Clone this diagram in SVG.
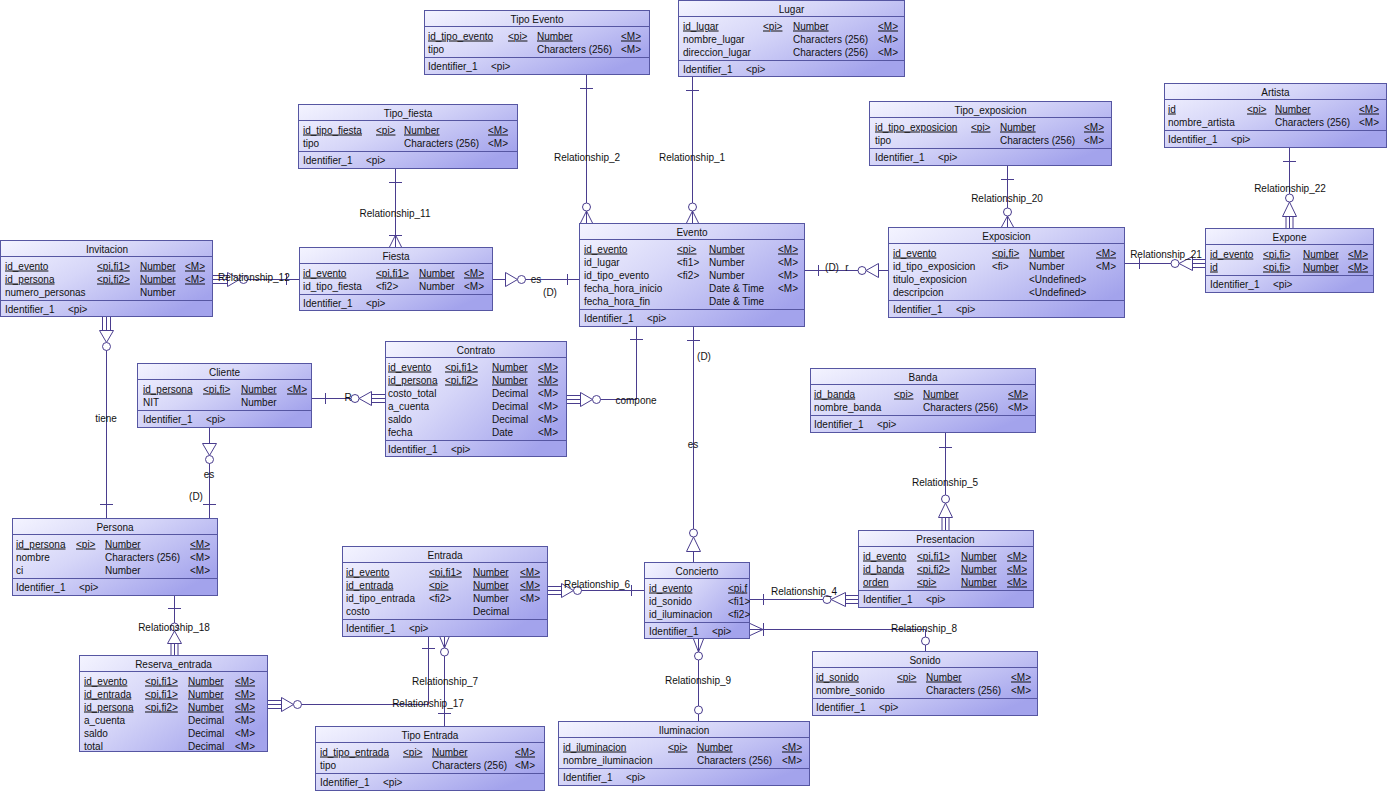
<svg xmlns="http://www.w3.org/2000/svg" width="1388" height="792" viewBox="0 0 1388 792">
<defs>
<linearGradient id="g" x1="0" y1="0" x2="1" y2="0.7">
<stop offset="0" stop-color="#f4f4ff"/>
<stop offset="0.45" stop-color="#d6d6f8"/>
<stop offset="1" stop-color="#a3a3ec"/>
</linearGradient>
<clipPath id="cc"><rect x="644" y="562" width="106" height="77"/></clipPath>
<style>
.e rect{fill:url(#g);stroke:#5656a2;stroke-width:1}
.e line{stroke:#5656a2;stroke-width:1}
text{font-family:"Liberation Sans",Arial,sans-serif;font-size:10px;fill:#111}
.h{text-anchor:middle}
.u{text-decoration:underline}
.cn line,.cn polyline{stroke:#4a3d8e;fill:none;stroke-width:1}
.cn circle,.cn polygon{stroke:#4a3d8e;fill:#fff;stroke-width:1}
</style>
</defs>
<rect width="1388" height="792" fill="#fff"/>

<g id="connectors" class="cn">
<!-- Relationship_2 -->
<line x1="586.5" y1="74" x2="586.5" y2="203"/>
<line x1="580" y1="88.5" x2="593" y2="88.5"/>
<circle cx="586.5" cy="207" r="4"/>
<polyline points="580.5,223 586.5,211 592.5,223"/>
<line x1="586.5" y1="211" x2="586.5" y2="223"/>
<!-- Relationship_1 -->
<line x1="692.5" y1="77" x2="692.5" y2="203"/>
<line x1="686" y1="90.5" x2="699" y2="90.5"/>
<circle cx="692.5" cy="207" r="4"/>
<polyline points="686.5,223 692.5,211 698.5,223"/>
<line x1="692.5" y1="211" x2="692.5" y2="223"/>
<!-- Relationship_11 -->
<line x1="395.5" y1="168" x2="395.5" y2="247"/>
<line x1="389" y1="182.5" x2="402" y2="182.5"/>
<line x1="389" y1="235.5" x2="402" y2="235.5"/>
<polyline points="389.5,247 395.5,235 401.5,247"/>
<!-- Relationship_12 -->
<line x1="213" y1="275.5" x2="227" y2="275.5"/>
<line x1="213" y1="279.5" x2="227" y2="279.5"/>
<line x1="213" y1="283.5" x2="227" y2="283.5"/>
<polygon points="227.5,272.5 227.5,286.5 239.5,279.5"/>
<circle cx="243.5" cy="279.5" r="4"/>
<line x1="247.5" y1="279.5" x2="299" y2="279.5"/>
<line x1="286.5" y1="274" x2="286.5" y2="285"/>
<!-- Fiesta es Evento -->
<line x1="493" y1="279.5" x2="505.5" y2="279.5"/>
<polygon points="505.5,272.5 505.5,286.5 517.5,279.5"/>
<circle cx="521.5" cy="279.5" r="4"/>
<line x1="525.5" y1="279.5" x2="579" y2="279.5"/>
<line x1="567.5" y1="274" x2="567.5" y2="285"/>
<!-- Evento r Exposicion -->
<line x1="805" y1="270.5" x2="858" y2="270.5"/>
<line x1="818.5" y1="265" x2="818.5" y2="276"/>
<circle cx="862" cy="270.5" r="4"/>
<polygon points="866,270.5 878.5,263.5 878.5,277.5"/>
<line x1="878.5" y1="270.5" x2="888" y2="270.5"/>
<!-- Evento es Concierto -->
<line x1="693.5" y1="326" x2="693.5" y2="529"/>
<line x1="687" y1="340.5" x2="700" y2="340.5"/>
<circle cx="693.5" cy="533" r="4"/>
<polygon points="693.5,537 686.5,551.5 700.5,551.5"/>
<line x1="693.5" y1="551.5" x2="693.5" y2="562"/>
<!-- compone -->
<line x1="567" y1="395.5" x2="580" y2="395.5"/>
<line x1="567" y1="399.5" x2="580" y2="399.5"/>
<line x1="567" y1="403.5" x2="580" y2="403.5"/>
<polygon points="580.5,392.5 580.5,406.5 592.5,399.5"/>
<circle cx="596.5" cy="399.5" r="4"/>
<polyline points="600.5,399.5 636.5,399.5 636.5,326"/>
<line x1="630" y1="339.5" x2="643" y2="339.5"/>
<!-- Cliente R Contrato -->
<line x1="312" y1="398.5" x2="351" y2="398.5"/>
<line x1="325.5" y1="393" x2="325.5" y2="404"/>
<circle cx="355" cy="398.5" r="4"/>
<polygon points="359,398.5 371.5,391.5 371.5,405.5"/>
<line x1="371.5" y1="394.5" x2="385" y2="394.5"/>
<line x1="371.5" y1="398.5" x2="385" y2="398.5"/>
<line x1="371.5" y1="402.5" x2="385" y2="402.5"/>
<!-- tiene -->
<line x1="102.5" y1="317" x2="102.5" y2="330"/>
<line x1="106.5" y1="317" x2="106.5" y2="330"/>
<line x1="110.5" y1="317" x2="110.5" y2="330"/>
<polygon points="99.5,330.5 113.5,330.5 106.5,342.5"/>
<circle cx="106.5" cy="346.5" r="4"/>
<line x1="106.5" y1="350.5" x2="106.5" y2="518"/>
<line x1="100" y1="504.5" x2="113" y2="504.5"/>
<!-- Cliente es Persona -->
<line x1="209.5" y1="427" x2="209.5" y2="443"/>
<polygon points="202.5,443.5 216.5,443.5 209.5,455.5"/>
<circle cx="209.5" cy="459.5" r="4"/>
<line x1="209.5" y1="463.5" x2="209.5" y2="518"/>
<line x1="203" y1="504.5" x2="216" y2="504.5"/>
<!-- Relationship_18 -->
<line x1="174.5" y1="595" x2="174.5" y2="623"/>
<line x1="168" y1="608.5" x2="181" y2="608.5"/>
<circle cx="174.5" cy="627" r="4"/>
<polygon points="174.5,631 167.5,643.5 181.5,643.5"/>
<line x1="171" y1="643.5" x2="171" y2="655"/>
<line x1="174.5" y1="643.5" x2="174.5" y2="655"/>
<line x1="178" y1="643.5" x2="178" y2="655"/>
<!-- Relationship_17 -->
<line x1="268" y1="700.5" x2="281" y2="700.5"/>
<line x1="268" y1="704.5" x2="281" y2="704.5"/>
<line x1="268" y1="708.5" x2="281" y2="708.5"/>
<polygon points="281.5,697.5 281.5,711.5 293.5,704.5"/>
<circle cx="297.5" cy="704.5" r="4"/>
<polyline points="301.5,704.5 428.5,704.5 428.5,636"/>
<line x1="422" y1="648.5" x2="435" y2="648.5"/>
<!-- Relationship_7 -->
<line x1="444.5" y1="636" x2="444.5" y2="648"/>
<polyline points="439.5,636 444.5,648 449.5,636"/>
<circle cx="444.5" cy="652" r="4"/>
<line x1="444.5" y1="656" x2="444.5" y2="726"/>
<line x1="438" y1="713.5" x2="451" y2="713.5"/>
<!-- Relationship_6 -->
<line x1="548" y1="586.5" x2="561" y2="586.5"/>
<line x1="548" y1="590.5" x2="561" y2="590.5"/>
<line x1="548" y1="594.5" x2="561" y2="594.5"/>
<polygon points="561.5,583.5 561.5,597.5 573.5,590.5"/>
<circle cx="577.5" cy="590.5" r="4"/>
<line x1="581.5" y1="590.5" x2="644" y2="590.5"/>
<line x1="631.5" y1="585" x2="631.5" y2="596"/>
<!-- Relationship_4 -->
<line x1="750" y1="599.5" x2="823" y2="599.5"/>
<line x1="763.5" y1="594" x2="763.5" y2="605"/>
<circle cx="827" cy="599.5" r="4"/>
<polygon points="831,599.5 845.5,592.5 845.5,606.5"/>
<line x1="845.5" y1="595.5" x2="858" y2="595.5"/>
<line x1="845.5" y1="599.5" x2="858" y2="599.5"/>
<line x1="845.5" y1="603.5" x2="858" y2="603.5"/>
<!-- Relationship_8 -->
<polyline points="750,623.5 763,629.5 750,635.5"/>
<line x1="763.5" y1="623" x2="763.5" y2="636"/>
<polyline points="750,629.5 925.5,629.5 925.5,637"/>
<circle cx="925.5" cy="641" r="4"/>
<line x1="925.5" y1="645" x2="925.5" y2="651"/>
<!-- Relationship_9 -->
<polyline points="693.5,639 698.5,652 703.5,639"/>
<line x1="698.5" y1="639" x2="698.5" y2="652"/>
<circle cx="698.5" cy="656" r="4"/>
<line x1="698.5" y1="660" x2="698.5" y2="706"/>
<circle cx="698.5" cy="710" r="4"/>
<line x1="698.5" y1="714" x2="698.5" y2="721"/>
<!-- Relationship_5 -->
<line x1="945.5" y1="432" x2="945.5" y2="495"/>
<line x1="939" y1="447.5" x2="952" y2="447.5"/>
<circle cx="945.5" cy="499" r="4"/>
<polygon points="945.5,503 938.5,517.5 952.5,517.5"/>
<line x1="942" y1="517.5" x2="942" y2="530"/>
<line x1="945.5" y1="517.5" x2="945.5" y2="530"/>
<line x1="949" y1="517.5" x2="949" y2="530"/>
<!-- Relationship_20 -->
<line x1="1007.5" y1="165" x2="1007.5" y2="208"/>
<line x1="1001" y1="179.5" x2="1014" y2="179.5"/>
<circle cx="1007.5" cy="212" r="4"/>
<polyline points="1001.5,227 1007.5,216 1013.5,227"/>
<line x1="1007.5" y1="216" x2="1007.5" y2="227"/>
<!-- Relationship_21 -->
<line x1="1125" y1="263.5" x2="1171" y2="263.5"/>
<line x1="1139.5" y1="258" x2="1139.5" y2="269"/>
<circle cx="1175" cy="263.5" r="4"/>
<polygon points="1179,263.5 1192.5,256.5 1192.5,270.5"/>
<line x1="1192.5" y1="259.5" x2="1205" y2="259.5"/>
<line x1="1192.5" y1="263.5" x2="1205" y2="263.5"/>
<line x1="1192.5" y1="267.5" x2="1205" y2="267.5"/>
<!-- Relationship_22 -->
<line x1="1289.5" y1="147" x2="1289.5" y2="194"/>
<line x1="1283" y1="161.5" x2="1296" y2="161.5"/>
<circle cx="1289.5" cy="198" r="4"/>
<polygon points="1289.5,202 1282.5,216.5 1296.5,216.5"/>
<line x1="1286" y1="216.5" x2="1286" y2="228"/>
<line x1="1289.5" y1="216.5" x2="1289.5" y2="228"/>
<line x1="1293" y1="216.5" x2="1293" y2="228"/>
<!-- labels -->
<text x="587" y="160.5" class="h">Relationship_2</text>
<text x="692" y="160.5" class="h">Relationship_1</text>
<text x="395" y="216.5" class="h">Relationship_11</text>
<text x="218" y="280.5">Relationship_12</text>
<text x="536" y="282.5" class="h">es</text>
<text x="550" y="295.5" class="h">(D)</text>
<text x="832" y="271" class="h">(D)</text>
<text x="847" y="271" class="h">r</text>
<text x="704" y="359.5" class="h">(D)</text>
<text x="693" y="447.5" class="h">es</text>
<text x="636" y="403.5" class="h">compone</text>
<text x="348" y="401" class="h">R</text>
<text x="106" y="421.5" class="h">tiene</text>
<text x="209" y="477.5" class="h">es</text>
<text x="196" y="499.5" class="h">(D)</text>
<text x="174" y="630.5" class="h">Relationship_18</text>
<text x="428" y="706.5" class="h">Relationship_17</text>
<text x="445" y="684.5" class="h">Relationship_7</text>
<text x="597" y="587.5" class="h">Relationship_6</text>
<text x="804" y="594.5" class="h">Relationship_4</text>
<text x="924" y="631.5" class="h">Relationship_8</text>
<text x="698" y="683.5" class="h">Relationship_9</text>
<text x="945" y="485.5" class="h">Relationship_5</text>
<text x="1007" y="201.5" class="h">Relationship_20</text>
<text x="1166" y="257.5" class="h">Relationship_21</text>
<text x="1290" y="191.5" class="h">Relationship_22</text>
</g>

<g id="tipo_evento" class="e">
<rect x="424.5" y="10.5" width="225" height="64"/>
<line x1="424.5" y1="26.5" x2="649.5" y2="26.5"/>
<line x1="424.5" y1="57.5" x2="649.5" y2="57.5"/>
<text x="537" y="22.5" class="h">Tipo Evento</text>
<text x="428" y="39.5" class="u">id_tipo_evento</text><text x="508" y="39.5" class="u">&lt;pi&gt;</text><text x="537" y="39.5" class="u">Number</text><text x="621" y="39.5" class="u">&lt;M&gt;</text>
<text x="428" y="52.5">tipo</text><text x="537" y="52.5">Characters (256)</text><text x="621" y="52.5">&lt;M&gt;</text>
<text x="428" y="69.5">Identifier_1</text><text x="491" y="69.5">&lt;pi&gt;</text>
</g>

<g id="lugar" class="e">
<rect x="678.5" y="0.5" width="226" height="76"/>
<line x1="678.5" y1="16.5" x2="904.5" y2="16.5"/>
<line x1="678.5" y1="60.5" x2="904.5" y2="60.5"/>
<text x="791.5" y="12.5" class="h">Lugar</text>
<text x="683" y="29.5" class="u">id_lugar</text><text x="763" y="29.5" class="u">&lt;pi&gt;</text><text x="793" y="29.5" class="u">Number</text><text x="878" y="29.5" class="u">&lt;M&gt;</text>
<text x="683" y="42.5">nombre_lugar</text><text x="793" y="42.5">Characters (256)</text><text x="878" y="42.5">&lt;M&gt;</text>
<text x="683" y="55.5">direccion_lugar</text><text x="793" y="55.5">Characters (256)</text><text x="878" y="55.5">&lt;M&gt;</text>
<text x="683" y="72.5">Identifier_1</text><text x="746" y="72.5">&lt;pi&gt;</text>
</g>

<g id="tipo_fiesta" class="e">
<rect x="298.5" y="104.5" width="219" height="64"/>
<line x1="298.5" y1="120.5" x2="517.5" y2="120.5"/>
<line x1="298.5" y1="151.5" x2="517.5" y2="151.5"/>
<text x="408" y="116.5" class="h">Tipo_fiesta</text>
<text x="303" y="133.5" class="u">id_tipo_fiesta</text><text x="376" y="133.5" class="u">&lt;pi&gt;</text><text x="404" y="133.5" class="u">Number</text><text x="488" y="133.5" class="u">&lt;M&gt;</text>
<text x="303" y="146.5">tipo</text><text x="404" y="146.5">Characters (256)</text><text x="488" y="146.5">&lt;M&gt;</text>
<text x="303" y="163.5">Identifier_1</text><text x="366" y="163.5">&lt;pi&gt;</text>
</g>

<g id="invitacion" class="e">
<rect x="0.5" y="240.5" width="212" height="76"/>
<line x1="0.5" y1="256.5" x2="212.5" y2="256.5"/>
<line x1="0.5" y1="300.5" x2="212.5" y2="300.5"/>
<text x="107" y="252.5" class="h">Invitacion</text>
<text x="5" y="269.5" class="u">id_evento</text><text x="97" y="269.5" class="u">&lt;pi,fi1&gt;</text><text x="140" y="269.5" class="u">Number</text><text x="185" y="269.5" class="u">&lt;M&gt;</text>
<text x="5" y="282.5" class="u">id_persona</text><text x="97" y="282.5" class="u">&lt;pi,fi2&gt;</text><text x="140" y="282.5" class="u">Number</text><text x="185" y="282.5" class="u">&lt;M&gt;</text>
<text x="5" y="295.5">numero_personas</text><text x="140" y="295.5">Number</text>
<text x="5" y="312.5">Identifier_1</text><text x="68" y="312.5">&lt;pi&gt;</text>
</g>

<g id="fiesta" class="e">
<rect x="299.5" y="247.5" width="193" height="63"/>
<line x1="299.5" y1="263.5" x2="492.5" y2="263.5"/>
<line x1="299.5" y1="294.5" x2="492.5" y2="294.5"/>
<text x="396" y="259.5" class="h">Fiesta</text>
<text x="303" y="276.5" class="u">id_evento</text><text x="376" y="276.5" class="u">&lt;pi,fi1&gt;</text><text x="419" y="276.5" class="u">Number</text><text x="464" y="276.5" class="u">&lt;M&gt;</text>
<text x="303" y="289.5">id_tipo_fiesta</text><text x="376" y="289.5">&lt;fi2&gt;</text><text x="419" y="289.5">Number</text><text x="464" y="289.5">&lt;M&gt;</text>
<text x="303" y="306.5">Identifier_1</text><text x="366" y="306.5">&lt;pi&gt;</text>
</g>

<g id="evento" class="e">
<rect x="579.5" y="223.5" width="225" height="103"/>
<line x1="579.5" y1="239.5" x2="804.5" y2="239.5"/>
<line x1="579.5" y1="309.5" x2="804.5" y2="309.5"/>
<text x="692" y="235.5" class="h">Evento</text>
<text x="584" y="252.5" class="u">id_evento</text><text x="677" y="252.5" class="u">&lt;pi&gt;</text><text x="709" y="252.5" class="u">Number</text><text x="778" y="252.5" class="u">&lt;M&gt;</text>
<text x="584" y="265.5">id_lugar</text><text x="677" y="265.5">&lt;fi1&gt;</text><text x="709" y="265.5">Number</text><text x="778" y="265.5">&lt;M&gt;</text>
<text x="584" y="278.5">id_tipo_evento</text><text x="677" y="278.5">&lt;fi2&gt;</text><text x="709" y="278.5">Number</text><text x="778" y="278.5">&lt;M&gt;</text>
<text x="584" y="291.5">fecha_hora_inicio</text><text x="709" y="291.5">Date &amp; Time</text><text x="778" y="291.5">&lt;M&gt;</text>
<text x="584" y="304.5">fecha_hora_fin</text><text x="709" y="304.5">Date &amp; Time</text>
<text x="584" y="321.5">Identifier_1</text><text x="647" y="321.5">&lt;pi&gt;</text>
</g>

<g id="exposicion" class="e">
<rect x="888.5" y="227.5" width="236" height="90"/>
<line x1="888.5" y1="243.5" x2="1124.5" y2="243.5"/>
<line x1="888.5" y1="300.5" x2="1124.5" y2="300.5"/>
<text x="1006.5" y="239.5" class="h">Exposicion</text>
<text x="893" y="256.5" class="u">id_evento</text><text x="992" y="256.5" class="u">&lt;pi,fi&gt;</text><text x="1029" y="256.5" class="u">Number</text><text x="1096" y="256.5" class="u">&lt;M&gt;</text>
<text x="893" y="269.5">id_tipo_exposicion</text><text x="992" y="269.5">&lt;fi&gt;</text><text x="1029" y="269.5">Number</text><text x="1096" y="269.5">&lt;M&gt;</text>
<text x="893" y="282.5">titulo_exposicion</text><text x="1029" y="282.5">&lt;Undefined&gt;</text>
<text x="893" y="295.5">descripcion</text><text x="1029" y="295.5">&lt;Undefined&gt;</text>
<text x="893" y="312.5">Identifier_1</text><text x="956" y="312.5">&lt;pi&gt;</text>
</g>

<g id="tipo_exposicion" class="e">
<rect x="869.5" y="101.5" width="242" height="64"/>
<line x1="869.5" y1="117.5" x2="1111.5" y2="117.5"/>
<line x1="869.5" y1="148.5" x2="1111.5" y2="148.5"/>
<text x="990.5" y="113.5" class="h">Tipo_exposicion</text>
<text x="875" y="130.5" class="u">id_tipo_exposicion</text><text x="971" y="130.5" class="u">&lt;pi&gt;</text><text x="1000" y="130.5" class="u">Number</text><text x="1084" y="130.5" class="u">&lt;M&gt;</text>
<text x="875" y="143.5">tipo</text><text x="1000" y="143.5">Characters (256)</text><text x="1084" y="143.5">&lt;M&gt;</text>
<text x="875" y="160.5">Identifier_1</text><text x="938" y="160.5">&lt;pi&gt;</text>
</g>

<g id="artista" class="e">
<rect x="1164.5" y="83.5" width="222" height="64"/>
<line x1="1164.5" y1="99.5" x2="1386.5" y2="99.5"/>
<line x1="1164.5" y1="130.5" x2="1386.5" y2="130.5"/>
<text x="1275.5" y="95.5" class="h">Artista</text>
<text x="1168" y="112.5" class="u">id</text><text x="1247" y="112.5" class="u">&lt;pi&gt;</text><text x="1275" y="112.5" class="u">Number</text><text x="1359" y="112.5" class="u">&lt;M&gt;</text>
<text x="1168" y="125.5">nombre_artista</text><text x="1275" y="125.5">Characters (256)</text><text x="1359" y="125.5">&lt;M&gt;</text>
<text x="1168" y="142.5">Identifier_1</text><text x="1231" y="142.5">&lt;pi&gt;</text>
</g>

<g id="expone" class="e">
<rect x="1205.5" y="228.5" width="168" height="64"/>
<line x1="1205.5" y1="244.5" x2="1373.5" y2="244.5"/>
<line x1="1205.5" y1="275.5" x2="1373.5" y2="275.5"/>
<text x="1289.5" y="240.5" class="h">Expone</text>
<text x="1210" y="257.5" class="u">id_evento</text><text x="1263" y="257.5" class="u">&lt;pi,fi&gt;</text><text x="1303" y="257.5" class="u">Number</text><text x="1348" y="257.5" class="u">&lt;M&gt;</text>
<text x="1210" y="270.5" class="u">id</text><text x="1263" y="270.5" class="u">&lt;pi,fi&gt;</text><text x="1303" y="270.5" class="u">Number</text><text x="1348" y="270.5" class="u">&lt;M&gt;</text>
<text x="1210" y="287.5">Identifier_1</text><text x="1273" y="287.5">&lt;pi&gt;</text>
</g>

<g id="cliente" class="e">
<rect x="137.5" y="363.5" width="174" height="64"/>
<line x1="137.5" y1="379.5" x2="311.5" y2="379.5"/>
<line x1="137.5" y1="410.5" x2="311.5" y2="410.5"/>
<text x="224.5" y="375.5" class="h">Cliente</text>
<text x="143" y="392.5" class="u">id_persona</text><text x="203" y="392.5" class="u">&lt;pi,fi&gt;</text><text x="241" y="392.5" class="u">Number</text><text x="287" y="392.5" class="u">&lt;M&gt;</text>
<text x="143" y="405.5">NIT</text><text x="241" y="405.5">Number</text>
<text x="143" y="422.5">Identifier_1</text><text x="206" y="422.5">&lt;pi&gt;</text>
</g>

<g id="contrato" class="e">
<rect x="385.5" y="341.5" width="181" height="115"/>
<line x1="385.5" y1="357.5" x2="566.5" y2="357.5"/>
<line x1="385.5" y1="440.5" x2="566.5" y2="440.5"/>
<text x="476" y="353.5" class="h">Contrato</text>
<text x="388" y="370.5" class="u">id_evento</text><text x="445" y="370.5" class="u">&lt;pi,fi1&gt;</text><text x="492" y="370.5" class="u">Number</text><text x="538" y="370.5" class="u">&lt;M&gt;</text>
<text x="388" y="383.5" class="u">id_persona</text><text x="445" y="383.5" class="u">&lt;pi,fi2&gt;</text><text x="492" y="383.5" class="u">Number</text><text x="538" y="383.5" class="u">&lt;M&gt;</text>
<text x="388" y="396.5">costo_total</text><text x="492" y="396.5">Decimal</text><text x="538" y="396.5">&lt;M&gt;</text>
<text x="388" y="409.5">a_cuenta</text><text x="492" y="409.5">Decimal</text><text x="538" y="409.5">&lt;M&gt;</text>
<text x="388" y="422.5">saldo</text><text x="492" y="422.5">Decimal</text><text x="538" y="422.5">&lt;M&gt;</text>
<text x="388" y="435.5">fecha</text><text x="492" y="435.5">Date</text><text x="538" y="435.5">&lt;M&gt;</text>
<text x="388" y="452.5">Identifier_1</text><text x="451" y="452.5">&lt;pi&gt;</text>
</g>

<g id="persona" class="e">
<rect x="12.5" y="518.5" width="205" height="77"/>
<line x1="12.5" y1="534.5" x2="217.5" y2="534.5"/>
<line x1="12.5" y1="578.5" x2="217.5" y2="578.5"/>
<text x="115" y="530.5" class="h">Persona</text>
<text x="16" y="547.5" class="u">id_persona</text><text x="76" y="547.5" class="u">&lt;pi&gt;</text><text x="105" y="547.5" class="u">Number</text><text x="190" y="547.5" class="u">&lt;M&gt;</text>
<text x="16" y="560.5">nombre</text><text x="105" y="560.5">Characters (256)</text><text x="190" y="560.5">&lt;M&gt;</text>
<text x="16" y="573.5">ci</text><text x="105" y="573.5">Number</text><text x="190" y="573.5">&lt;M&gt;</text>
<text x="16" y="590.5">Identifier_1</text><text x="79" y="590.5">&lt;pi&gt;</text>
</g>

<g id="reserva_entrada" class="e">
<rect x="79.5" y="655.5" width="188" height="96"/>
<line x1="79.5" y1="671.5" x2="267.5" y2="671.5"/>
<text x="173.5" y="667.5" class="h">Reserva_entrada</text>
<text x="84" y="684.5" class="u">id_evento</text><text x="145" y="684.5" class="u">&lt;pi,fi1&gt;</text><text x="188" y="684.5" class="u">Number</text><text x="235" y="684.5" class="u">&lt;M&gt;</text>
<text x="84" y="697.5" class="u">id_entrada</text><text x="145" y="697.5" class="u">&lt;pi,fi1&gt;</text><text x="188" y="697.5" class="u">Number</text><text x="235" y="697.5" class="u">&lt;M&gt;</text>
<text x="84" y="710.5" class="u">id_persona</text><text x="145" y="710.5" class="u">&lt;pi,fi2&gt;</text><text x="188" y="710.5" class="u">Number</text><text x="235" y="710.5" class="u">&lt;M&gt;</text>
<text x="84" y="723.5">a_cuenta</text><text x="188" y="723.5">Decimal</text><text x="235" y="723.5">&lt;M&gt;</text>
<text x="84" y="736.5">saldo</text><text x="188" y="736.5">Decimal</text><text x="235" y="736.5">&lt;M&gt;</text>
<text x="84" y="749.5">total</text><text x="188" y="749.5">Decimal</text><text x="235" y="749.5">&lt;M&gt;</text>
</g>

<g id="entrada" class="e">
<rect x="342.5" y="546.5" width="205" height="90"/>
<line x1="342.5" y1="562.5" x2="547.5" y2="562.5"/>
<line x1="342.5" y1="619.5" x2="547.5" y2="619.5"/>
<text x="445" y="558.5" class="h">Entrada</text>
<text x="346" y="575.5" class="u">id_evento</text><text x="429" y="575.5" class="u">&lt;pi,fi1&gt;</text><text x="473" y="575.5" class="u">Number</text><text x="520" y="575.5" class="u">&lt;M&gt;</text>
<text x="346" y="588.5" class="u">id_entrada</text><text x="429" y="588.5" class="u">&lt;pi&gt;</text><text x="473" y="588.5" class="u">Number</text><text x="520" y="588.5" class="u">&lt;M&gt;</text>
<text x="346" y="601.5">id_tipo_entrada</text><text x="429" y="601.5">&lt;fi2&gt;</text><text x="473" y="601.5">Number</text><text x="520" y="601.5">&lt;M&gt;</text>
<text x="346" y="614.5">costo</text><text x="473" y="614.5">Decimal</text>
<text x="346" y="631.5">Identifier_1</text><text x="409" y="631.5">&lt;pi&gt;</text>
</g>

<g id="tipo_entrada" class="e">
<rect x="315.5" y="726.5" width="229" height="64"/>
<line x1="315.5" y1="742.5" x2="544.5" y2="742.5"/>
<line x1="315.5" y1="773.5" x2="544.5" y2="773.5"/>
<text x="430" y="738.5" class="h">Tipo Entrada</text>
<text x="320" y="755.5" class="u">id_tipo_entrada</text><text x="403" y="755.5" class="u">&lt;pi&gt;</text><text x="432" y="755.5" class="u">Number</text><text x="515" y="755.5" class="u">&lt;M&gt;</text>
<text x="320" y="768.5">tipo</text><text x="432" y="768.5">Characters (256)</text><text x="515" y="768.5">&lt;M&gt;</text>
<text x="320" y="785.5">Identifier_1</text><text x="383" y="785.5">&lt;pi&gt;</text>
</g>

<g id="concierto" class="e">
<rect x="644.5" y="562.5" width="105" height="76"/>
<line x1="644.5" y1="578.5" x2="749.5" y2="578.5"/>
<line x1="644.5" y1="622.5" x2="749.5" y2="622.5"/>
<text x="697" y="574.5" class="h">Concierto</text>
<g clip-path="url(#cc)">
<text x="649" y="591.5" class="u">id_evento</text><text x="728" y="591.5" class="u">&lt;pi,f</text>
<text x="649" y="604.5">id_sonido</text><text x="728" y="604.5">&lt;fi1&gt;</text>
<text x="649" y="617.5">id_iluminacion</text><text x="728" y="617.5">&lt;fi2&gt;</text>
</g>
<text x="649" y="634.5">Identifier_1</text><text x="712" y="634.5">&lt;pi&gt;</text>
</g>

<g id="presentacion" class="e">
<rect x="858.5" y="530.5" width="175" height="77"/>
<line x1="858.5" y1="546.5" x2="1033.5" y2="546.5"/>
<line x1="858.5" y1="590.5" x2="1033.5" y2="590.5"/>
<text x="945.5" y="542.5" class="h">Presentacion</text>
<text x="863" y="559.5" class="u">id_evento</text><text x="917" y="559.5" class="u">&lt;pi,fi1&gt;</text><text x="961" y="559.5" class="u">Number</text><text x="1007" y="559.5" class="u">&lt;M&gt;</text>
<text x="863" y="572.5" class="u">id_banda</text><text x="917" y="572.5" class="u">&lt;pi,fi2&gt;</text><text x="961" y="572.5" class="u">Number</text><text x="1007" y="572.5" class="u">&lt;M&gt;</text>
<text x="863" y="585.5" class="u">orden</text><text x="917" y="585.5" class="u">&lt;pi&gt;</text><text x="961" y="585.5" class="u">Number</text><text x="1007" y="585.5" class="u">&lt;M&gt;</text>
<text x="863" y="602.5">Identifier_1</text><text x="926" y="602.5">&lt;pi&gt;</text>
</g>

<g id="banda" class="e">
<rect x="810.5" y="368.5" width="225" height="64"/>
<line x1="810.5" y1="384.5" x2="1035.5" y2="384.5"/>
<line x1="810.5" y1="415.5" x2="1035.5" y2="415.5"/>
<text x="923" y="380.5" class="h">Banda</text>
<text x="814" y="397.5" class="u">id_banda</text><text x="894" y="397.5" class="u">&lt;pi&gt;</text><text x="923" y="397.5" class="u">Number</text><text x="1008" y="397.5" class="u">&lt;M&gt;</text>
<text x="814" y="410.5">nombre_banda</text><text x="923" y="410.5">Characters (256)</text><text x="1008" y="410.5">&lt;M&gt;</text>
<text x="814" y="427.5">Identifier_1</text><text x="877" y="427.5">&lt;pi&gt;</text>
</g>

<g id="sonido" class="e">
<rect x="812.5" y="651.5" width="225" height="64"/>
<line x1="812.5" y1="667.5" x2="1037.5" y2="667.5"/>
<line x1="812.5" y1="698.5" x2="1037.5" y2="698.5"/>
<text x="925" y="663.5" class="h">Sonido</text>
<text x="816" y="680.5" class="u">id_sonido</text><text x="897" y="680.5" class="u">&lt;pi&gt;</text><text x="926" y="680.5" class="u">Number</text><text x="1011" y="680.5" class="u">&lt;M&gt;</text>
<text x="816" y="693.5">nombre_sonido</text><text x="926" y="693.5">Characters (256)</text><text x="1011" y="693.5">&lt;M&gt;</text>
<text x="816" y="710.5">Identifier_1</text><text x="879" y="710.5">&lt;pi&gt;</text>
</g>

<g id="iluminacion" class="e">
<rect x="558.5" y="721.5" width="251" height="64"/>
<line x1="558.5" y1="737.5" x2="809.5" y2="737.5"/>
<line x1="558.5" y1="768.5" x2="809.5" y2="768.5"/>
<text x="684" y="733.5" class="h">Iluminacion</text>
<text x="563" y="750.5" class="u">id_iluminacion</text><text x="668" y="750.5" class="u">&lt;pi&gt;</text><text x="697" y="750.5" class="u">Number</text><text x="782" y="750.5" class="u">&lt;M&gt;</text>
<text x="563" y="763.5">nombre_iluminacion</text><text x="697" y="763.5">Characters (256)</text><text x="782" y="763.5">&lt;M&gt;</text>
<text x="563" y="780.5">Identifier_1</text><text x="626" y="780.5">&lt;pi&gt;</text>
</g>
</svg>
